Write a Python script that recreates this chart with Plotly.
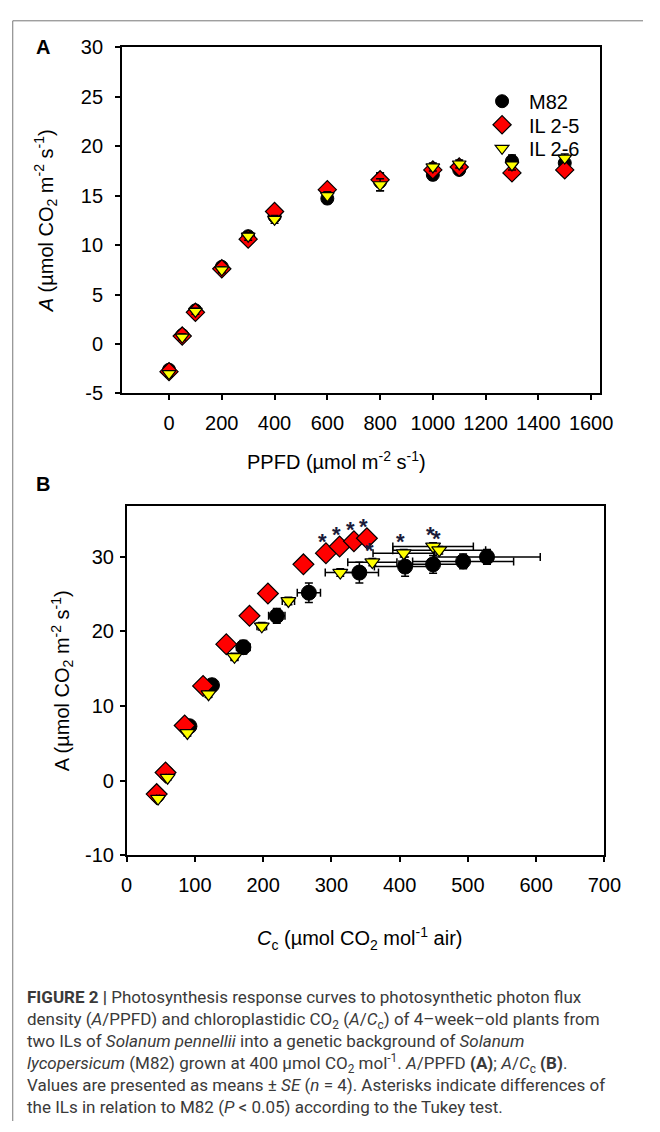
import plotly.graph_objects as go

# ---------------- Panel A: A / PPFD ----------------
ppfd = [0, 50, 100, 200, 300, 400, 600, 800, 1000, 1100, 1300, 1500]
a_m82 = [-2.6, 0.9, 3.4, 7.8, 10.9, 12.9, 14.7, 16.4, 17.1, 17.6, 18.5, 18.3]
a_m82_se = [0.3, 0.3, 0.3, 0.3, 0.4, 0.4, 0.5, 0.9, 0.5, 0.4, 0.6, 0.5]
a_il25 = [-2.8, 0.8, 3.2, 7.6, 10.6, 13.4, 15.6, 16.6, 17.6, 17.9, 17.3, 17.6]
a_il25_se = [0.3, 0.3, 0.3, 0.3, 0.4, 0.4, 0.4, 0.7, 0.5, 0.4, 0.5, 0.5]
a_il26 = [-3.0, 0.7, 3.3, 7.5, 10.9, 12.6, 15.0, 16.1, 17.9, 18.2, 18.1, 18.8]
a_il26_se = [0.3, 0.3, 0.3, 0.3, 0.4, 0.4, 0.4, 0.6, 0.4, 0.4, 0.5, 0.4]
ticks_a_x = [0, 200, 400, 600, 800, 1000, 1200, 1400, 1600]
ticks_a_y = [-5, 0, 5, 10, 15, 20, 25, 30]

# ---------------- Panel B: A / Cc ----------------
cc_m82 = [45, 58, 92, 125, 171, 220, 267, 341, 408, 449, 493, 528]
cc_m82_se = [3, 3, 5, 8, 10, 12, 17, 28, 45, 50, 74, 78]
b_m82 = [-1.9, 1.0, 7.3, 12.8, 17.9, 22.1, 25.2, 27.9, 28.7, 29.0, 29.4, 30.0]
b_m82_se = [0.4, 0.4, 0.5, 0.6, 0.9, 1.0, 1.3, 1.4, 1.3, 1.2, 1.0, 1.0]

cc_il25 = [44, 57, 85, 112, 146, 180, 207, 259, 292, 312, 333, 352]
cc_il25_se = [2, 2, 3, 3, 4, 4, 5, 5, 6, 6, 6, 7]
b_il25 = [-1.8, 1.1, 7.4, 12.7, 18.3, 22.1, 25.1, 29.0, 30.5, 31.4, 32.1, 32.5]
b_il25_se = [0.3, 0.3, 0.4, 0.4, 0.5, 0.5, 0.5, 0.5, 0.5, 0.5, 0.5, 0.5]

cc_il26 = [46, 60, 89, 120, 158, 198, 237, 313, 360, 406, 449, 458]
cc_il26_se = [2, 2, 3, 4, 5, 7, 9, 22, 36, 45, 59, 68]
b_il26 = [-2.4, 0.4, 6.4, 11.6, 16.6, 20.7, 24.1, 27.9, 29.3, 30.5, 31.4, 30.9]
b_il26_se = [0.3, 0.3, 0.4, 0.4, 0.5, 0.5, 0.5, 0.5, 0.5, 0.5, 0.5, 0.5]
ticks_b_x = [0, 100, 200, 300, 400, 500, 600, 700]
ticks_b_y = [-10, 0, 10, 20, 30]

# points flagged as different from M82 (Tukey, P < 0.05)
star_il25_idx = [8, 9, 10, 11]
star_il26_idx = [8, 9, 10, 11]

series_names = ["M82", "IL 2-5", "IL 2-6"]

W, H = 660, 1132
FONT = "Liberation Sans, Arial, sans-serif"


def px(x):
    return x / W


def py(y):
    return 1 - y / H


def labels(vals):
    return [str(v) for v in vals]  # plain hyphen minus like the original


fig = go.Figure()

marker_styles = [
    dict(symbol="circle", color="black", line=dict(color="black", width=1)),
    dict(symbol="diamond", color="#ff0000", line=dict(color="black", width=1.2)),
    dict(symbol="triangle-down", color="#ffff00", line=dict(color="black", width=1.2)),
]
sizes_a = [13, 14, 12]
sizes_b = [15, 16, 13]
legend_ids = ["legend", "legend2", "legend3"]

ys_a = [a_m82, a_il25, a_il26]
es_a = [a_m82_se, a_il25_se, a_il26_se]
for name, ys, es, ms, sz, lg in zip(series_names, ys_a, es_a, marker_styles, sizes_a, legend_ids):
    fig.add_trace(go.Scatter(
        x=ppfd, y=ys, mode="markers", name=name,
        marker=dict(size=sz, **ms),
        error_y=dict(type="data", array=es, color="black", thickness=1.5, width=4),
        xaxis="x", yaxis="y", showlegend=True, legend=lg,
    ))

xs_b = [cc_m82, cc_il25, cc_il26]
xe_b = [cc_m82_se, cc_il25_se, cc_il26_se]
ys_b = [b_m82, b_il25, b_il26]
ye_b = [b_m82_se, b_il25_se, b_il26_se]
for name, xs, xe, ys, ye, ms, sz in zip(series_names, xs_b, xe_b, ys_b, ye_b, marker_styles, sizes_b):
    fig.add_trace(go.Scatter(
        x=xs, y=ys, mode="markers", name=name,
        marker=dict(size=sz, **ms),
        error_x=dict(type="data", array=xe, color="black", thickness=1.5, width=4),
        error_y=dict(type="data", array=ye, color="black", thickness=1.5, width=4),
        xaxis="x2", yaxis="y2", showlegend=False,
    ))

# asterisks
annotations = []
for idx_list, xs, ys in [(star_il25_idx, cc_il25, b_il25), (star_il26_idx, cc_il26, b_il26)]:
    for i in idx_list:
        annotations.append(dict(
            x=xs[i], y=ys[i], xref="x2", yref="y2", text="<b>*</b>", showarrow=False,
            xanchor="center", yanchor="middle",
            yshift=12, xshift=-3, font=dict(size=22, color="#1a1a3a", family=FONT),
        ))

axis_common = dict(
    showline=True, linecolor="black", linewidth=1.5, mirror=True,
    ticks="outside", ticklen=5, tickwidth=1.5, tickcolor="black",
    showgrid=False, zeroline=False,
    tickfont=dict(size=20, color="black", family=FONT),
)

legend_common = dict(
    x=px(486), xanchor="left", yanchor="middle",
    font=dict(size=20, family=FONT, color="black"),
    bgcolor="rgba(0,0,0,0)", borderwidth=0, itemsizing="trace", itemwidth=44,
)

title_font = dict(size=20, color="black", family=FONT)

fig.update_layout(
    width=W, height=H,
    margin=dict(l=0, r=0, t=0, b=0),
    paper_bgcolor="white", plot_bgcolor="white",
    font=dict(family=FONT, color="black"),
    xaxis=dict(domain=[px(120), px(615)], range=[-179, 1632], anchor="y",
               tickvals=ticks_a_x, ticktext=labels(ticks_a_x),
               ticklabelstandoff=6, **axis_common),
    yaxis=dict(domain=[py(390), py(37)], range=[-5, 30], anchor="x",
               tickvals=ticks_a_y, ticktext=labels(ticks_a_y), ticklabelstandoff=8,
               title=dict(text="<i>A</i> (µmol CO<sub>2</sub> m<sup>-2</sup> s<sup>-1</sup>)",
                          font=title_font, standoff=22),
               **axis_common),
    xaxis2=dict(domain=[px(125), px(620)], range=[0, 700], anchor="y2",
                tickvals=ticks_b_x, ticktext=labels(ticks_b_x),
                ticklabelstandoff=6, **axis_common),
    yaxis2=dict(domain=[py(861), py(505)], range=[-10, 36.8], anchor="x2",
                tickvals=ticks_b_y, ticktext=labels(ticks_b_y), ticklabelstandoff=2,
                title=dict(text="A (µmol CO<sub>2</sub> m<sup>-2</sup> s<sup>-1</sup>)",
                           font=title_font, standoff=10),
                **axis_common),
    legend=dict(y=py(92), **legend_common),
    legend2=dict(y=py(116), **legend_common),
    legend3=dict(y=py(140), **legend_common),
)

centered = dict(xref="paper", yref="paper", showarrow=False, xanchor="center", yanchor="middle")
annotations += [
    dict(x=px(38), y=py(37), text="<b>A</b>", font=dict(size=20, color="black", family=FONT), **centered),
    dict(x=px(38), y=py(482), text="<b>B</b>", font=dict(size=20, color="black", family=FONT), **centered),
    dict(x=px(342), y=py(458), text="PPFD (µmol m<sup>-2</sup> s<sup>-1</sup>)", font=title_font, **centered),
    dict(x=px(366), y=py(946), text="<i>C</i><sub>c</sub> (µmol CO<sub>2</sub> mol<sup>-1</sup> air)",
         font=title_font, **centered),
]

caption_lines = [
    "<b>FIGURE 2 |</b> Photosynthesis response curves to photosynthetic photon flux",
    "density (<i>A</i>/PPFD) and chloroplastidic CO<sub>2</sub> (<i>A</i>/<i>C</i><sub>c</sub>) of 4–week–old plants from",
    "two ILs of <i>Solanum pennellii</i> into a genetic background of <i>Solanum</i>",
    "<i>lycopersicum</i> (M82) grown at 400 µmol CO<sub>2</sub> mol<sup>-1</sup>. <i>A</i>/PPFD <b>(A)</b>; <i>A</i>/<i>C</i><sub>c</sub> <b>(B)</b>.",
    "Values are presented as means ± <i>SE</i> (<i>n</i> = 4). Asterisks indicate differences of",
    "the ILs in relation to M82 (<i>P</i> &lt; 0.05) according to the Tukey test.",
]
# invisible sup/sub so that every caption line has the same box height
balance = "<span style='color:rgba(0,0,0,0)'><sup>x</sup><sub>x</sub></span>"
for k, line in enumerate(caption_lines):
    annotations.append(dict(
        x=px(20), y=py(1006 + 22.4 * k), xref="paper", yref="paper", xanchor="left",
        yanchor="middle", showarrow=False, text=line + balance,
        font=dict(size=17, color="#3a3a3a", family="Roboto, sans-serif"),
    ))

fig.update_layout(annotations=annotations)

# outer figure frame (top and left edges visible)
fig.add_shape(type="line", xref="paper", yref="paper", x0=px(7), x1=1.0, y0=py(10), y1=py(10),
              line=dict(color="#777777", width=1))
fig.add_shape(type="line", xref="paper", yref="paper", x0=px(7), x1=px(7), y0=py(10), y1=0,
              line=dict(color="#777777", width=1))

fig.write_html(
    "out.html",
    config={"displayModeBar": False},
    post_script="document.body.style.margin='0';document.body.style.padding='0';"
                "document.documentElement.style.overflow='hidden';",
)
